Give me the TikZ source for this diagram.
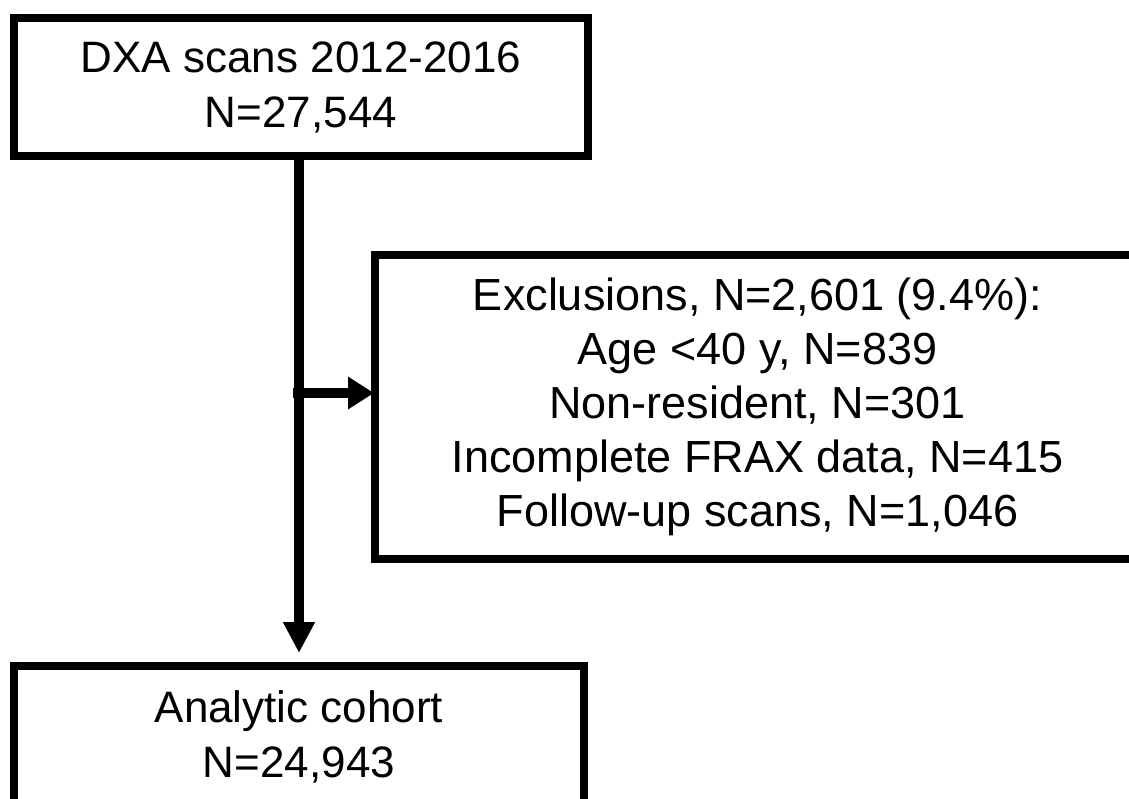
\documentclass[tikz,border=0pt]{standalone}
\usepackage{fontspec}
\setmainfont{Liberation Sans}
\usetikzlibrary{arrows.meta}

\tikzset{
    box/.style={draw, line width=4pt, inner sep=0pt, align=center,
        font=\fontsize{22pt}{27.5pt}\selectfont},
    flow/.style={line width=5pt, -{Triangle[length=15.5pt,width=15pt]}}
}

\begin{document}
\begin{tikzpicture}[x=0.5pt,y=-0.5pt]
    % Rahmen wie im Original (1129 x 798)
    \useasboundingbox (0,0) rectangle (1129,798);

    % Kaesten
    \node[box, minimum width=287pt, minimum height=69pt] (dxa) at (301,87)
        {DXA scans 2012-2016\\N=27,544};
    \node[box, minimum width=382.5pt, minimum height=152pt,
          font=\fontsize{22.5pt}{27pt}\selectfont] (excl) at (757.5,407)
        {Exclusions, N=2,601 (9.4\%):\\Age <40 y, N=839\\Non-resident, N=301\\
         Incomplete FRAX data, N=415\\Follow-up scans, N=1,046};
    \node[box, minimum width=285pt, minimum height=70.5pt] (cohort) at (299,736.5)
        {Analytic cohort\\N=24,943};

    % Pfeile
    \coordinate (split) at (293,393);
    \draw[flow, shorten >=4.5pt] (dxa.south -| cohort.north) -- (cohort.north);
    \draw[line width=5pt, -{Triangle[length=13pt,width=15.5pt]}, shorten >=-1.5pt]
        (split) -- (split -| excl.west);
\end{tikzpicture}
\end{document}
